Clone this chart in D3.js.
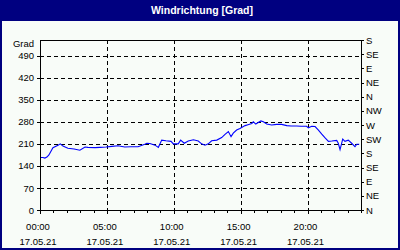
<!DOCTYPE html>
<html>
<head>
<meta charset="utf-8">
<script src="https://cdn.jsdelivr.net/npm/d3@7"></script>
<style>
	body { margin: 0; background: #fff; }
	svg { display: block; }
	text { font-family: "Liberation Sans", Arial, sans-serif; }
</style>
</head>
<body>
<svg id="chart" width="400" height="250"></svg>
<script>
// Windrichtung 17.05.21, Werte in Grad
const times = ["00:00","00:13","00:22","00:31","00:40","00:58","01:21","01:31","01:43","02:05",
	"02:33","02:59","03:22","03:35","04:07","04:29","04:56","05:23","05:50","06:20",
	"06:48","07:20","07:50","07:59","08:13","08:36","08:51","09:06","09:25","09:48",
	"09:58","10:20","10:31","10:47","11:05","11:28","11:50","12:05","12:20","12:35",
	"12:50","13:13","13:35","13:50","14:05","14:17","14:27","14:42","14:57","15:20",
	"15:33","15:50","15:57","16:08","16:19","16:31","16:42","16:57","17:19","17:42",
	"18:04","18:27","18:46","19:11","19:31","19:56","20:04","20:19","20:34","20:49",
	"21:04","21:19","21:34","21:49","22:11","22:18","22:26","22:38","22:48","23:03",
	"23:18","23:33","23:41","23:52"];
const values = [167,167,165,168,175,198,206,210,203,196,
	194,190,200,199,198,199,200,202,204,200,
	201,201,209,212,211,206,199,222,220,218,
	210,210,222,212,219,223,219,210,206,210,
	220,222,230,240,249,233,244,254,259,268,
	271,275,280,273,278,283,280,273,270,272,
	272,268,267,267,266,266,261,266,265,254,
	241,229,218,219,221,212,192,225,218,222,
	212,201,209,209];
const leftTicks = [0,70,140,210,280,350,420,490];
const rightTicks = [0,45,90,135,180,225,270,315,360,405,450,495,540];
const directions = ["N","NE","E","SE","S","SW","W","NW","N","NE","E","SE","S"];
const day = "2021-05-17";
const dayLabel = "17.05.21";

const svg = d3.select("#chart");
const W = 400, H = 250;
const margin = { left: 40, right: 39, top: 40, bottom: 40 };
const parse = d3.timeParse("%Y-%m-%d %H:%M");

const data = times.map(function(t, i) { return { date: parse(day + " " + t), value: values[i] }; });

const x = d3.scaleTime()
	.domain([parse(day + " 00:00"), d3.timeDay.offset(parse(day + " 00:00"), 1)])
	.range([margin.left, W - margin.right]);
const y = d3.scaleLinear()
	.domain([0, 540])
	.range([H - margin.bottom, margin.top]);

// frame + title bar
svg.append("rect").attr("width", W).attr("height", H).attr("fill", "#000080");
svg.append("rect").attr("x", 2).attr("y", 21).attr("width", W - 4).attr("height", H - 23).attr("fill", "#f8fcf8");
svg.append("text")
	.attr("x", W / 2 + 2).attr("y", 14)
	.attr("text-anchor", "middle")
	.attr("fill", "#fff")
	.attr("font-weight", "bold")
	.attr("font-size", "10.5px")
	.text("Windrichtung [Grad]");

// grid
const grid = svg.append("g").attr("stroke", "#000").attr("stroke-dasharray", "4,3").attr("shape-rendering", "crispEdges");
grid.selectAll(".h").data(leftTicks.slice(1)).enter().append("line")
	.attr("x1", margin.left).attr("x2", W - margin.right)
	.attr("y1", function(d) { return Math.round(y(d)) + 0.5; })
	.attr("y2", function(d) { return Math.round(y(d)) + 0.5; });
grid.selectAll(".v").data([5, 10, 15, 20]).enter().append("line")
	.attr("x1", function(d) { return Math.round(x(d3.timeHour.offset(x.domain()[0], d))) + 0.5; })
	.attr("x2", function(d) { return Math.round(x(d3.timeHour.offset(x.domain()[0], d))) + 0.5; })
	.attr("y1", margin.top).attr("y2", H - margin.bottom);

// line
const line = d3.line()
	.x(function(d) { return x(d.date); })
	.y(function(d) { return y(d.value); });
svg.append("path")
	.datum(data)
	.attr("fill", "none")
	.attr("stroke", "#0000ff")
	.attr("stroke-width", 1.1)
	.attr("d", line);

// plot border top
svg.append("line")
	.attr("x1", margin.left).attr("x2", W - margin.right + 0.5)
	.attr("y1", margin.top + 0.5).attr("y2", margin.top + 0.5)
	.attr("stroke", "#000");

function styleAxis(g) {
	g.attr("font-family", null).attr("font-size", null);
	g.selectAll("text").attr("font-size", "9.5px").attr("fill", "#000");
	g.selectAll("line, path").attr("stroke", "#000").attr("shape-rendering", "crispEdges");
}

svg.append("g")
	.attr("transform", "translate(" + margin.left + ",0)")
	.call(d3.axisLeft(y).tickValues(leftTicks).tickSize(3).tickPadding(3).tickSizeOuter(0))
	.call(styleAxis);

svg.append("g")
	.attr("transform", "translate(" + (W - margin.right) + ",0)")
	.call(d3.axisRight(y).tickValues(rightTicks).tickSize(3).tickPadding(2).tickSizeOuter(0)
		.tickFormat(function(d, i) { return directions[i]; }))
	.call(styleAxis);

// x axis: hourly minor ticks, labels every 5 hours
svg.append("g")
	.attr("transform", "translate(0," + (H - margin.bottom) + ")")
	.call(d3.axisBottom(x).ticks(d3.timeHour.every(1)).tickSize(3).tickSizeOuter(0).tickFormat(""))
	.call(styleAxis);

const xAxis = svg.append("g")
	.attr("transform", "translate(0," + (H - margin.bottom) + ")")
	.call(d3.axisBottom(x).ticks(d3.timeHour.every(5)).tickSize(4).tickPadding(9).tickSizeOuter(0)
		.tickFormat(d3.timeFormat("%H:%M")))
	.call(styleAxis);
xAxis.select(".domain").remove();
xAxis.selectAll(".tick")
	.filter(function(d) { return d.getHours() === 0 && d.getDate() !== 17; })
	.remove();
xAxis.selectAll(".tick text")
	.attr("dx", -2.5)
	.append("tspan")
	.attr("x", 0).attr("dx", -2.5).attr("dy", "1.6em")
	.text(dayLabel);

svg.append("text")
	.attr("x", 34).attr("y", 47)
	.attr("text-anchor", "end")
	.attr("font-size", "9.5px")
	.text("Grad");
</script>
</body>
</html>
